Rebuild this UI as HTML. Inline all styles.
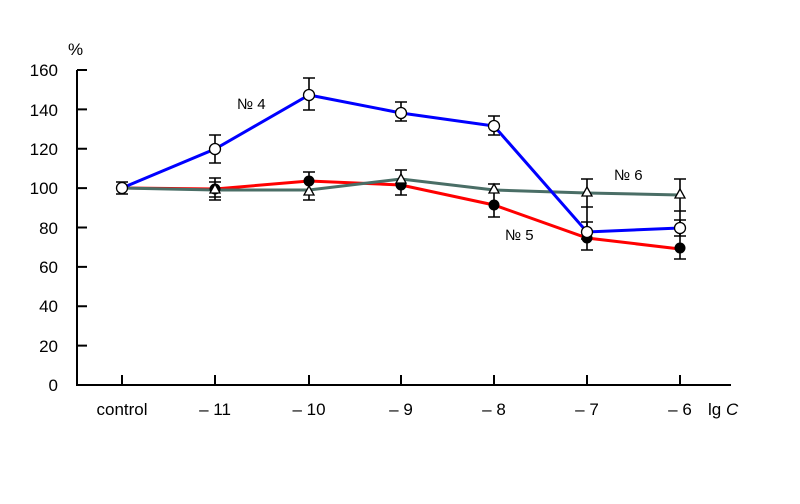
<!DOCTYPE html>
<html><head><meta charset="utf-8"><style>body{margin:0;background:#fff}svg{display:block}text{font-family:"Liberation Sans",sans-serif;fill:#000}</style></head><body>
<svg width="800" height="504" viewBox="0 0 800 504">
<g stroke="#000" stroke-width="2" fill="none">
<path d="M77 70V386M76 385H731"/>
<path d="M77 70h10M77 109.4h10M77 148.8h10M77 188.1h10M77 227.5h10M77 266.9h10M77 306.3h10M77 345.6h10"/>
<path d="M122 375v10M215 375v10M309 375v10M401 375v10M494 375v10M587 375v10M680 375v10"/>
</g>
<g font-size="17" text-anchor="end">
<text x="58" y="76">160</text><text x="58" y="116">140</text><text x="58" y="155">120</text><text x="58" y="194">100</text><text x="58" y="234">80</text><text x="58" y="273">60</text><text x="58" y="312">40</text><text x="58" y="352">20</text><text x="58" y="391">0</text>
</g>
<text x="68" y="55" font-size="17">%</text>
<g font-size="17" text-anchor="middle">
<text x="122" y="415">control</text><text x="215" y="415">– 11</text><text x="309" y="415">– 10</text><text x="401" y="415">– 9</text><text x="494" y="415">– 8</text><text x="587" y="415">– 7</text><text x="680" y="415">– 6</text>
</g>
<text x="708" y="415" font-size="17">lg <tspan font-style="italic">C</tspan></text>
<text x="237" y="109" font-size="15">№ 4</text>
<text x="505" y="240" font-size="15">№ 5</text>
<text x="614" y="180" font-size="15">№ 6</text>
<g stroke="#000" stroke-width="1.6" fill="none">
<path d="M122 182v12M116 182h12M116 194h12"/>
<path d="M215 135v28M209 135h12M209 163h12"/>
<path d="M309 78v32M303 78h12M303 110h12"/>
<path d="M401 102v19M395 102h12M395 121h12"/>
<path d="M494 116v19M488 116h12M488 135h12"/>
<path d="M587 222v17M581 222h12M581 239h12"/>
<path d="M680 220v16M674 220h12M674 236h12"/>
<path d="M215 178v22M209 178h12M209 200h12M209 182h12M209 197h12"/>
<path d="M309 172v28M303 172h12M303 200h12"/>
<path d="M401 170v25M395 170h12M395 195h12"/>
<path d="M494 184v33M488 184h12M488 217h12"/>
<path d="M587 179v71M581 179h12M581 207h12M581 250h12"/>
<path d="M680 179v80M674 179h12M674 211h12M674 259h12"/>
</g>
<polyline fill="none" stroke="#f00" stroke-width="3" points="122,188 215,189 309,181 401,185 494,205 587,238 680,249"/>
<polyline fill="none" stroke="#4a6e66" stroke-width="3" points="122,188 215,190 309,190 401,179 494,190 587,193 680,195"/>
<polyline fill="none" stroke="#00f" stroke-width="3" points="122,188 215,149 309,95 401,113 494,126 587,232 680,228"/>
<g fill="#000"><circle cx="215" cy="189" r="5.5"/><circle cx="309" cy="181" r="5.5"/><circle cx="401" cy="185" r="5.5"/><circle cx="494" cy="205" r="5.5"/><circle cx="587" cy="238" r="5.5"/><circle cx="680" cy="248" r="5.5"/></g>
<g fill="#fff" stroke="#000" stroke-width="1.3">
<path d="M215 184l5 9h-10z"/><path d="M309 186l5 9h-10z"/><path d="M401 174l5 9h-10z"/><path d="M494 184l5 9h-10z"/><path d="M587 187l5 9h-10z"/><path d="M680 189l5 9h-10z"/>
<circle cx="122" cy="188" r="5.5"/><circle cx="215" cy="149" r="5.5"/><circle cx="309" cy="95" r="5.5"/><circle cx="401" cy="113" r="5.5"/><circle cx="494" cy="126" r="5.5"/><circle cx="587" cy="232" r="5.5"/><circle cx="680" cy="228" r="5.5"/>
</g>
</svg>
</body></html>
